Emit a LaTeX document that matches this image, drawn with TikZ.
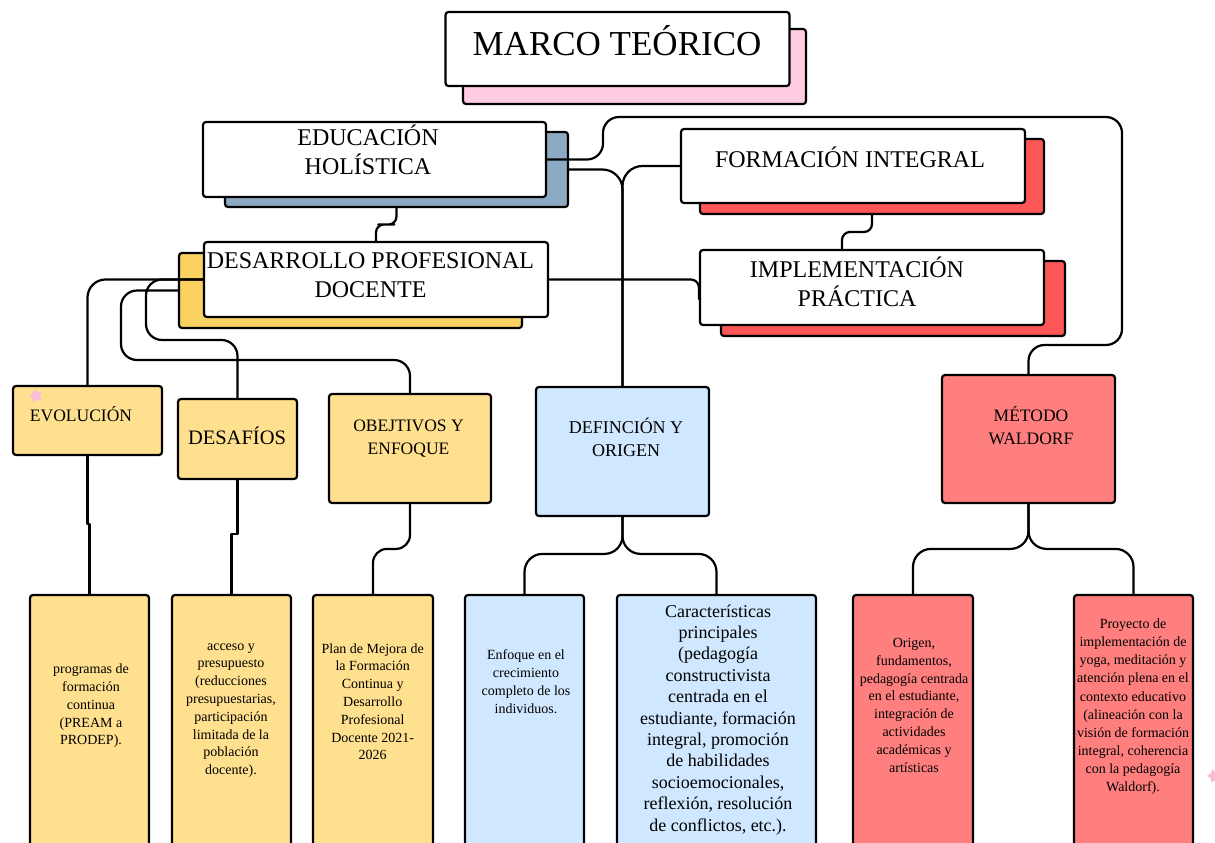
\documentclass[tikz,border=0pt]{standalone}
\usepackage{fontspec}
\setmainfont{Liberation Serif}
\usetikzlibrary{calc,shapes.geometric}
\definecolor{pinksh}{RGB}{255,204,226}
\definecolor{steelsh}{RGB}{141,170,196}
\definecolor{redsh}{RGB}{255,87,87}
\definecolor{yellowsh}{RGB}{250,210,98}
\definecolor{yellowbox}{RGB}{255,224,142}
\definecolor{bluebox}{RGB}{208,232,255}
\definecolor{salmonbox}{RGB}{255,127,127}
\definecolor{starpink}{RGB}{248,190,218}
\begin{document}
\begin{tikzpicture}[x=1pt,y=-1pt,
  box/.style={draw=black,line width=2.2pt,rounded corners=3pt,inner sep=0pt},
  conn/.style={draw=black,line width=2.2pt,line join=round,rounded corners=#1},
  conn/.default=16pt,
  jog/.style={draw=black,line width=2.2pt,line join=round,sharp corners},
  txt/.style={align=center,inner sep=0pt,text=black},
  thuge/.style={font=\fontsize{35}{42}\selectfont},
  tbig/.style={font=\fontsize{24}{29}\selectfont},
  tmed/.style={font=\fontsize{17.5}{23}\selectfont},
  tsmall/.style={font=\fontsize{14}{17.8}\selectfont},
  tlarge/.style={font=\fontsize{18}{21.4}\selectfont},
  decostar/.style={star,star points=5,star point ratio=1.7,fill=starpink,draw=none,minimum size=14pt,inner sep=0pt}
]
\clip (0,0) rectangle (1215,843);
\fill[white] (0,0) rectangle (1215,843);

% shadows
\node[box,fill=pinksh,minimum width=343pt,minimum height=75pt] (marcosh) at (634.5,66.5) {};
\node[box,fill=steelsh,minimum width=343pt,minimum height=75pt] (edush) at (396.5,169.5) {};
\node[box,fill=redsh,minimum width=344pt,minimum height=75pt] (formsh) at (872,176.5) {};
\node[box,fill=redsh,minimum width=344pt,minimum height=75pt] (implsh) at (893,298.5) {};
\node[box,fill=yellowsh,minimum width=343pt,minimum height=75pt] (dpdsh) at (350.5,290.5) {};

% main boxes
\node[box,fill=white,minimum width=344pt,minimum height=74pt] (marco) at (617.5,49) {};
\node[box,fill=white,minimum width=343pt,minimum height=75pt] (edu) at (374.5,159.5) {};
\node[box,fill=white,minimum width=344pt,minimum height=74pt] (form) at (853,166) {};
\node[box,fill=white,minimum width=344pt,minimum height=75pt] (impl) at (872,287.5) {};
\node[box,fill=white,minimum width=344pt,minimum height=75pt] (dpd) at (376,279.5) {};

\node[box,fill=yellowbox,minimum width=149pt,minimum height=69pt] (evo) at (87.5,420.5) {};
\node[box,fill=yellowbox,minimum width=119pt,minimum height=80pt] (des) at (237.5,439) {};
\node[box,fill=yellowbox,minimum width=162pt,minimum height=109pt] (obj) at (410,448.5) {};
\node[box,fill=bluebox,minimum width=173pt,minimum height=129pt] (def) at (622.5,451.5) {};
\node[box,fill=salmonbox,minimum width=173pt,minimum height=128pt] (wal) at (1028.5,439) {};

\node[box,fill=yellowbox,minimum width=119pt,minimum height=275pt] (b1) at (89.5,732.5) {};
\node[box,fill=yellowbox,minimum width=119pt,minimum height=275pt] (b2) at (231.5,732.5) {};
\node[box,fill=yellowbox,minimum width=120pt,minimum height=275pt] (b3) at (373,732.5) {};
\node[box,fill=bluebox,minimum width=119pt,minimum height=275pt] (b4) at (524.5,732.5) {};
\node[box,fill=bluebox,minimum width=199pt,minimum height=275pt] (b5) at (716.5,732.5) {};
\node[box,fill=salmonbox,minimum width=120pt,minimum height=275pt] (b6) at (913,732.5) {};
\node[box,fill=salmonbox,minimum width=119pt,minimum height=275pt] (b7) at (1133.5,732.5) {};

% connectors
\draw[conn=8pt] (edush.south) |- ($(edush.south)!0.5!(dpd.north)$) -| (dpd.north);
\draw[conn=16pt] (edu.east) -| (603,117) -| (1122,345) -| (wal.north);
\draw[conn=20pt] (edush.east) -| (def.north);
\draw[conn=20pt] (form.west) -| (def.north);
\draw[conn=8pt] (formsh.south) |- ($(formsh.south)!0.5!([xshift=-30pt]impl.north)$) -| ([xshift=-30pt]impl.north);
\draw[conn=8pt] (dpd.east) -| ([yshift=-12pt]impl.west);
\draw[conn=18pt] (dpd.west) -| (evo.north);
\draw[conn=16pt] (dpd.west) -| (146,340) -| (des.north);
\draw[conn=16pt] (dpdsh.west) -| (121,360) -| (obj.north);
\draw[jog] (evo.south) |- ($(b1.north)+(0,-70)$) -- (b1.north);
\draw[jog] (des.south) |- ($(b2.north)+(0,-60)$) -- (b2.north);
\draw[conn=14pt] (obj.south) |- ($(b3.north)+(0,-45)$) -- (b3.north);
\draw[conn=18pt] (def.south) |- ($(b4.north)+(0,-40)$) -- (b4.north);
\draw[conn=18pt] (def.south) |- ($(b5.north)+(0,-40)$) -- (b5.north);
\draw[conn=18pt] (wal.south) |- ($(b6.north)+(0,-45)$) -- (b6.north);
\draw[conn=18pt] (wal.south) |- ($(b7.north)+(0,-45)$) -- (b7.north);

% texts
\node[txt,thuge] (tmarco) at (617,40.5) {MARCO TEÓRICO};
\node[txt,tbig] (tedu) at (368,149.5) {EDUCACIÓN\\HOLÍSTICA};
\node[txt,tbig] (tform) at (850,157) {FORMACIÓN INTEGRAL};
\node[txt,tbig] (tdpd) at (370.5,275) {DESARROLLO PROFESIONAL\\DOCENTE};
\node[txt,tbig] (timpl) at (857,282) {IMPLEMENTACIÓN\\PRÁCTICA};
\node[txt,tmed] (tevo) at (81,414) {EVOLUCIÓN};
\node[txt,font=\fontsize{20.5}{24}\selectfont] (tdes) at (237,436) {DESAFÍOS};
\node[txt,tmed] (tobj) at (408.5,439) {OBEJTIVOS Y\\ENFOQUE};
\node[txt,font=\fontsize{18}{23}\selectfont] (tdef) at (626,437.5) {DEFINCIÓN Y\\ORIGEN};
\node[txt,tmed] (twal) at (1031,425.5) {MÉTODO\\WALDORF};

\node[txt,tsmall] (tb1) at (91,706) {programas de\\formación\\continua\\(PREAM a\\PRODEP).};
\node[txt,tsmall] (tb2) at (231,710.5) {acceso y\\presupuesto\\(reducciones\\presupuestarias,\\participación\\limitada de la\\población\\docente).};
\node[txt,tsmall] (tb3) at (372.7,701.7) {Plan de Mejora de\\la Formación\\Continua y\\Desarrollo\\Profesional\\Docente 2021-\\2026};
\node[txt,font=\fontsize{14}{18}\selectfont] (tb4) at (526,682) {Enfoque en el\\crecimiento\\completo de los\\individuos.};
\node[txt,tlarge] (tb5) at (718,719.7) {Características\\principales\\(pedagogía\\constructivista\\centrada en el\\estudiante, formación\\integral, promoción\\de habilidades\\socioemocionales,\\reflexión, resolución\\de conflictos, etc.).};
\node[txt,tsmall] (tb6) at (914,705.3) {Origen,\\fundamentos,\\pedagogía centrada\\en el estudiante,\\integración de\\actividades\\académicas y\\artísticas};
\node[txt,font=\fontsize{14}{18.1}\selectfont] (tb7) at (1133,706.7) {Proyecto de\\implementación de\\yoga, meditación y\\atención plena en el\\contexto educativo\\(alineación con la\\visión de formación\\integral, coherencia\\con la pedagogía\\Waldorf).};

% decorative marks
\node[decostar,rotate=15] (st1) at (36,396) {};
\node[decostar,rotate=15] (st2) at (1214,776) {};
\end{tikzpicture}
\end{document}
